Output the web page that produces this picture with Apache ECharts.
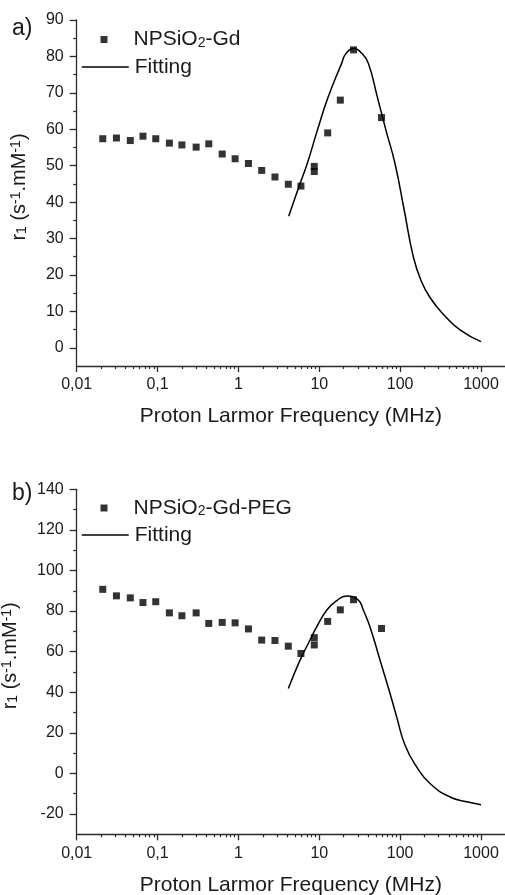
<!DOCTYPE html>
<html><head><meta charset="utf-8">
<script src="https://cdn.jsdelivr.net/npm/echarts@6/dist/echarts.min.js"></script>
<style>html,body{margin:0;padding:0;background:#fff}#c{width:505px;height:895px}</style>
</head><body><div id="c"></div><script>
// ---- data ----
const xTickValues = [0.01, 0.1, 1, 10, 100, 1000];
const xTickLabels = ['0,01', '0,1', '1', '10', '100', '1000'];
const topYTicks = [0, 10, 20, 30, 40, 50, 60, 70, 80, 90];
const topYMinor = [5, 15, 25, 35, 45, 55, 65, 75, 85];
const botYTicks = [-20, 0, 20, 40, 60, 80, 100, 120, 140];
const botYMinor = [-10, 10, 30, 50, 70, 90, 110, 130];

const topFreq = [0.021, 0.031, 0.046, 0.066, 0.095, 0.14, 0.2, 0.3, 0.43, 0.63, 0.91, 1.33, 1.94, 2.83, 4.14, 5.93, 8.67, 8.67, 12.7, 18.2, 26.5, 58.8];
const topR1 = [57.4, 57.6, 56.9, 58.1, 57.4, 56.2, 55.7, 55.1, 56.0, 53.2, 51.9, 50.6, 48.7, 46.9, 44.9, 44.4, 48.4, 49.8, 59.0, 68.0, 81.8, 63.2];
const topFitFreq = [4.19, 5.61, 7.05, 9.46, 12.9, 18.9, 21.4, 26.9, 33.7, 40.4, 52.2, 66.8, 86.3, 112.5, 145.5, 181, 234, 342, 550, 1000];
const topFitR1 = [36.1, 44.3, 50.4, 59.7, 68.9, 78.1, 80.8, 82.2, 80.8, 78.1, 68.9, 59.7, 50.6, 37.7, 25.0, 18.5, 13.8, 9.2, 4.9, 1.7];

const botFreq = topFreq;
const botR1 = [90.7, 87.5, 86.5, 84.2, 84.6, 79.1, 77.7, 79.1, 73.9, 74.4, 74.2, 71.2, 65.7, 65.5, 62.7, 59.1, 66.9, 63.3, 74.9, 80.6, 85.6, 71.4];
const botFitFreq = [4.14, 5.78, 7.31, 9.29, 12.4, 16.1, 21.8, 30.4, 35.0, 42.4, 56.4, 75.0, 90.6, 115, 160, 234, 414, 665, 1000];
const botFitR1 = [41.8, 55.8, 64.0, 72.2, 80.5, 84.9, 87.4, 85.4, 80.5, 72.2, 55.8, 39.4, 27.8, 13.9, 3.2, -5.0, -11.6, -14.0, -15.4];

// minor tick positions (2..9 of each decade)
const xMinorValues = [];
for (let d = -2; d <= 2; d++) for (let k = 2; k <= 9; k++) xMinorValues.push(+(k * Math.pow(10, d)).toPrecision(6));

const zip = (a, b) => a.map((v, i) => [v, b[i]]);
const TXT = '#1a1a1a', AX = '#2a2a2a', FONT = "'Liberation Sans', Arial, sans-serif";
const XMIN = 0.01, XMAX = 1980;

function xLabel(v) {
  for (let i = 0; i < xTickValues.length; i++) {
    if (Math.abs(Math.log10(v) - Math.log10(xTickValues[i])) < 1e-6) return xTickLabels[i];
  }
  return '';
}
function mainX(g) {
  return {
    type: 'log', logBase: 10, gridIndex: g, position: 'bottom', min: XMIN, max: XMAX,
    name: 'Proton Larmor Frequency (MHz)', nameLocation: 'middle', nameGap: 40,
    nameTextStyle: { fontSize: 21, color: TXT, fontFamily: FONT },
    axisLine: { show: true, onZero: false, lineStyle: { color: AX, width: 1.3 } },
    axisTick: { show: true, inside: false, length: 6, customValues: xTickValues, lineStyle: { color: AX, width: 1.3 } },
    axisLabel: { show: true, customValues: xTickValues, formatter: xLabel, fontSize: 16, margin: 11, color: TXT, fontFamily: FONT },
    splitLine: { show: false }, minorTick: { show: false }
  };
}
function minorX(g) {
  return {
    type: 'log', logBase: 10, gridIndex: g, position: 'bottom', offset: 0, min: XMIN, max: XMAX,
    axisLine: { show: false, onZero: false },
    axisTick: { show: true, inside: false, length: 3, customValues: xMinorValues, lineStyle: { color: AX, width: 1.2 } },
    axisLabel: { show: false }, splitLine: { show: false }
  };
}
const yNameRich = {
  sub: { fontSize: 14, lineHeight: 14, padding: [12, 0, 0, 0], verticalAlign: 'bottom', color: TXT, fontFamily: FONT },
  sup: { fontSize: 14, lineHeight: 14, padding: [0, 0, 12, 0], verticalAlign: 'top', color: TXT, fontFamily: FONT }
};
function mainY(g, min, max, ticks) {
  return {
    type: 'value', gridIndex: g, position: 'left', min: min, max: max,
    name: 'r{sub|1} (s{sup|-1}.mM{sup|-1})', nameLocation: 'middle', nameGap: 36, nameRotate: 90,
    nameTextStyle: { fontSize: 20, color: TXT, fontFamily: FONT, rich: yNameRich, padding: [0, 0, 0, 12] },
    axisLine: { show: true, onZero: false, lineStyle: { color: AX, width: 1.3 } },
    axisTick: { show: true, inside: false, length: 7, customValues: ticks, lineStyle: { color: AX, width: 1.3 } },
    axisLabel: { show: true, customValues: ticks, fontSize: 16, margin: 13, color: TXT, fontFamily: FONT },
    splitLine: { show: false }
  };
}
function minorY(g, min, max, ticks) {
  return {
    type: 'value', gridIndex: g, position: 'left', offset: 0, min: min, max: max,
    axisLine: { show: false, onZero: false },
    axisTick: { show: true, inside: false, length: 3.5, customValues: ticks, lineStyle: { color: AX, width: 1.2 } },
    axisLabel: { show: false }, splitLine: { show: false }
  };
}
const legendRich = { sub: { fontSize: 14, lineHeight: 14, padding: [14, 0, 0, 0], verticalAlign: 'bottom', color: TXT, fontFamily: FONT } };
const legendFmt = n => n.replace('O2', 'O{sub|2}');
function scatterLegend(name, top) {
  return {
    data: [name], left: 100.5, top: top, padding: 0, itemWidth: 7, itemHeight: 7, icon: 'rect',
    selectedMode: false, formatter: legendFmt,
    textStyle: { fontSize: 21, color: TXT, fontFamily: FONT, padding: [0, 0, 0, 21], rich: legendRich }
  };
}
function lineLegend(top) {
  return {
    data: ['Fitting'], left: 81, top: top, padding: 0, itemWidth: 47, itemHeight: 10, selectedMode: false,
    itemStyle: { opacity: 0 }, lineStyle: { color: '#000', width: 1.5 },
    textStyle: { fontSize: 21, color: TXT, fontFamily: FONT, padding: [0, 0, 0, 1] }
  };
}

const chart = echarts.init(document.getElementById('c'), null, { renderer: 'canvas' });
chart.setOption({
  backgroundColor: '#fff',
  animation: false,
  textStyle: { fontFamily: FONT },
  title: [
    { text: 'a)', left: 12, top: 17, padding: 0, textStyle: { fontSize: 23, fontWeight: 'normal', color: TXT, fontFamily: FONT } },
    { text: 'b)', left: 12, top: 482, padding: 0, textStyle: { fontSize: 23, fontWeight: 'normal', color: TXT, fontFamily: FONT } }
  ],
  legend: [scatterLegend('NPSiO2-Gd', 22), lineLegend(56.5), scatterLegend('NPSiO2-Gd-PEG', 490.5), lineLegend(524.5)],
  grid: [
    { left: 76.7, top: 20, width: 428.3, height: 346, containLabel: false, outerBoundsMode: 'none' },
    { left: 76.7, top: 489.3, width: 428.3, height: 345, containLabel: false, outerBoundsMode: 'none' }
  ],
  xAxis: [mainX(0), minorX(0), mainX(1), minorX(1)],
  yAxis: [mainY(0, -5, 90, topYTicks), minorY(0, -5, 90, topYMinor), mainY(1, -30, 140, botYTicks), minorY(1, -30, 140, botYMinor)],
  series: [
    { type: 'line', name: 'Fitting', xAxisIndex: 0, yAxisIndex: 0, data: zip(topFitFreq, topFitR1), symbol: 'none', smooth: 0.5, lineStyle: { color: '#000', width: 1.5 }, itemStyle: { color: '#000' } },
    { type: 'scatter', name: 'NPSiO2-Gd', xAxisIndex: 0, yAxisIndex: 0, data: zip(topFreq, topR1), symbol: 'rect', symbolSize: 7, itemStyle: { color: '#000' } },
    { type: 'line', name: 'Fitting', xAxisIndex: 2, yAxisIndex: 2, data: zip(botFitFreq, botFitR1), symbol: 'none', smooth: 0.5, lineStyle: { color: '#000', width: 1.5 }, itemStyle: { color: '#000' } },
    { type: 'scatter', name: 'NPSiO2-Gd-PEG', xAxisIndex: 2, yAxisIndex: 2, data: zip(botFreq, botR1), symbol: 'rect', symbolSize: 7, itemStyle: { color: '#000' } }
  ]
});
</script></body></html>
